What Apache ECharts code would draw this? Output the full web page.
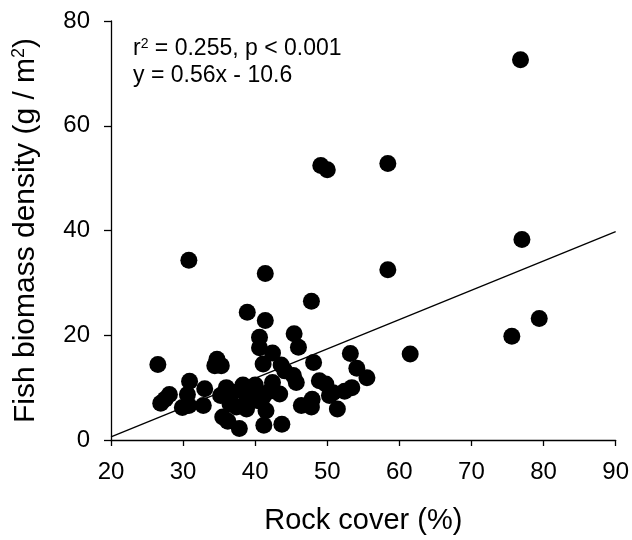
<!DOCTYPE html>
<html>
<head>
<meta charset="utf-8">
<script src="https://cdn.jsdelivr.net/npm/echarts@6/dist/echarts.min.js"></script>
<style>html,body{margin:0;padding:0;background:#fff}#c{width:632px;height:540px}</style>
</head>
<body>
<div id="c"></div>
<script>
var rockCover = [76.8,49.1,50.0,58.4,77.0,58.4,30.8,41.4,47.8,38.9,41.4,79.4,75.6,61.5,53.2,26.5,45.4,46.0,40.6,40.6,
  42.4,41.1,43.6,44.1,48.1,34.7,34.4,35.3,54.1,55.5,30.9,28.1,26.9,30.6,29.9,30.8,33.0,32.8,35.2,36.5,
  35.5,36.2,37.8,36.5,38.3,39.7,38.8,40.4,41.1,42.4,45.7,45.3,48.9,49.8,36.9,38.8,43.4,46.4,47.9,50.3,
  41.5,41.2,43.7,37.4,53.4,52.4,50.8,51.4,47.8,40.0,39.0,27.5,36.0,42.0];
var biomass = [72.6,52.4,51.6,52.8,38.3,32.5,34.3,31.8,26.5,24.4,22.8,23.2,19.8,16.4,16.5,14.4,20.3,17.7,19.6,17.6,
  16.6,14.5,14.3,13.2,14.8,15.4,14.2,14.2,13.7,11.9,11.2,8.7,7.0,8.7,6.2,6.6,9.8,6.6,8.5,9.1,
  4.4,3.6,2.2,6.9,10.5,9.5,5.9,7.5,8.2,11.0,11.0,12.3,11.3,10.7,9.1,7.5,8.8,6.6,7.8,8.5,
  5.6,2.8,3.0,6.3,10.0,9.3,9.0,5.9,6.3,10.5,8.8,7.8,10.0,9.3];
var xTicks = [20,30,40,50,60,70,80,90];
var yTicks = [0,20,40,60,80];
var slope = 0.56, intercept = -10.6;
var statLine1 = ['r', '2', ' = 0.255, p < 0.001'];
var statLine2 = 'y = 0.56x - 10.6';

var pts = rockCover.map(function(x,i){return [x, biomass[i]];});
var xMin = xTicks[0], xMax = xTicks[xTicks.length-1];
var yMin = yTicks[0], yMax = yTicks[yTicks.length-1];
var fit = [[xMin, slope*xMin+intercept],[xMax, slope*xMax+intercept]];
var font = 'Liberation Sans, Arial, sans-serif';

var chart = echarts.init(document.getElementById('c'));
chart.setOption({
  animation:false,
  backgroundColor:'#fff',
  grid:{left:111,right:16,top:21,bottom:97},
  xAxis:{type:'value',min:xMin,max:xMax,interval:10,
    axisLine:{show:true,lineStyle:{color:'#000',width:1.3}},
    axisTick:{show:true,inside:false,length:6,lineStyle:{color:'#000',width:1.3}},
    splitLine:{show:false},
    axisLabel:{color:'#000',fontSize:24,fontFamily:font,margin:20},
    name:'Rock cover (%)',nameLocation:'middle',nameGap:66,
    nameTextStyle:{color:'#000',fontSize:29,fontFamily:font}},
  yAxis:{type:'value',min:yMin,max:yMax,interval:20,
    axisLine:{show:true,lineStyle:{color:'#000',width:1.3}},
    axisTick:{show:true,inside:false,length:7,lineStyle:{color:'#000',width:1.3}},
    splitLine:{show:false},
    axisLabel:{color:'#000',fontSize:24,fontFamily:font,margin:21},
    name:'{a|Fish biomass density (g / m}{s|2}{a|)}',nameLocation:'middle',nameGap:70,nameRotate:90,
    nameTextStyle:{color:'#000',fontSize:30,fontFamily:font,
      rich:{a:{fontSize:30,fontFamily:font,color:'#000'},s:{fontSize:18,fontFamily:font,color:'#000',padding:[0,0,13,0]}}}},
  graphic:[
    {type:'text',left:133,top:37,style:{
      rich:{a:{fontSize:23,fontFamily:font,fill:'#000'},s:{fontSize:14,fontFamily:font,fill:'#000',padding:[0,0,10,0]}},
      text:'{a|'+statLine1[0]+'}{s|'+statLine1[1]+'}{a|'+statLine1[2]+'}'}},
    {type:'text',left:133,top:64,style:{text:statLine2,fontSize:23,fontFamily:font,fill:'#000'}}
  ],
  series:[
    {type:'line',data:fit,symbol:'none',lineStyle:{color:'#000',width:1.3},silent:true,z:1},
    {type:'scatter',data:pts,symbol:'circle',symbolSize:17,itemStyle:{color:'#000',opacity:1},z:2}
  ]
});
</script>
</body>
</html>
